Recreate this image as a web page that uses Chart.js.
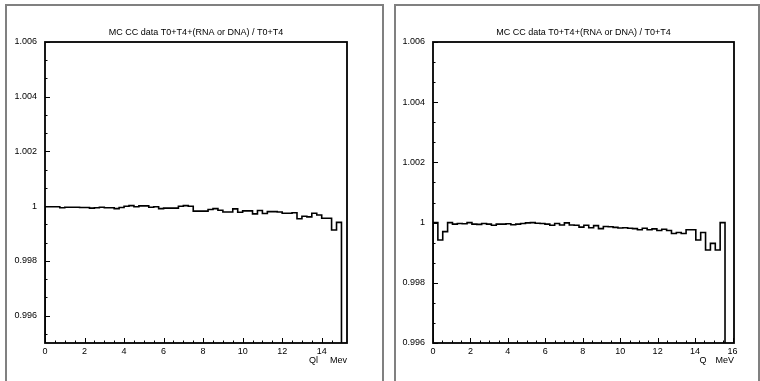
<!DOCTYPE html>
<html>
<head>
<meta charset="utf-8">
<script src="https://cdn.jsdelivr.net/npm/chart.js@4.4.1/dist/chart.umd.min.js"></script>
<style>
  body { margin: 0; background: #fff; width: 760px; height: 381px; position: relative; overflow: hidden; }
  .panel { position: absolute; top: 4px; height: 400px; border: 2px solid #808080; box-sizing: border-box; }
  canvas { position: absolute; top: 0; }
</style>
</head>
<body>
<div class="panel" style="left:5px; width:379px;"></div>
<div class="panel" style="left:394px; width:366px;"></div>
<canvas id="leftChart" width="385" height="381" style="left:0"></canvas>
<canvas id="rightChart" width="375" height="381" style="left:385px"></canvas>
<script>
// Chart data
const plotTitle = 'MC CC data T0+T4+(RNA or DNA) / T0+T4';

// left: Ql spectrum, 60 bins of 0.25 MeV
const leftBinWidth = 0.25;
const leftValues = [
  0.99998, 0.99998, 0.99998, 0.99994, 0.99996, 0.99996, 0.99996, 0.99995, 0.99995, 0.99993,
  0.99994, 0.99996, 0.99994, 0.99994, 0.99991, 0.99995, 1.00000, 1.00002, 0.99998, 1.00001,
  1.00001, 0.99996, 0.99998, 0.99991, 0.99993, 0.99993, 0.99993, 1.00000, 1.00002, 1.00000,
  0.99982, 0.99982, 0.99982, 0.99988, 0.99991, 0.99985, 0.99979, 0.99979, 0.99990, 0.99978,
  0.99983, 0.99983, 0.99972, 0.99984, 0.99973, 0.99980, 0.99980, 0.99979, 0.99974, 0.99974,
  0.99976, 0.99954, 0.99963, 0.99961, 0.99974, 0.99968, 0.99956, 0.99956, 0.99913, 0.99941
];
const leftXTicks = [0, 2, 4, 6, 8, 10, 12, 14];
const leftYTicks = [0.996, 0.998, 1, 1.002, 1.004, 1.006];

// right: Q spectrum, 60 bins of 0.26 MeV
const rightBinWidth = 0.26;
const rightValues = [
  1.00000, 0.99942, 0.99970, 1.00000, 0.99995, 0.99997, 0.99996, 1.00000, 0.99995, 0.99994,
  0.99997, 0.99995, 0.99991, 0.99995, 0.99995, 0.99996, 0.99993, 0.99995, 0.99997, 0.99999,
  1.00000, 0.99998, 0.99997, 0.99995, 0.99991, 0.99997, 0.99992, 0.99999, 0.99992, 0.99991,
  0.99985, 0.99991, 0.99983, 0.99990, 0.99980, 0.99987, 0.99986, 0.99984, 0.99982, 0.99983,
  0.99981, 0.99980, 0.99976, 0.99981, 0.99976, 0.99979, 0.99974, 0.99978, 0.99974, 0.99964,
  0.99967, 0.99964, 0.99976, 0.99976, 0.99942, 0.99967, 0.99909, 0.99931, 0.99909, 1.00000
];
const rightXTicks = [0, 2, 4, 6, 8, 10, 12, 14, 16];
const rightYTicks = [0.996, 0.998, 1, 1.002, 1.004, 1.006];

const FONT = '"Liberation Sans", Arial, Helvetica, sans-serif';

// turn bin contents into a histogram outline (drops to the axis at both ends)
function histPoints(values, width, yMin) {
  const pts = [{ x: 0, y: yMin }];
  values.forEach((v, i) => {
    pts.push({ x: +(i * width).toFixed(4), y: v });
    pts.push({ x: +((i + 1) * width).toFixed(4), y: v });
  });
  pts.push({ x: +(values.length * width).toFixed(4), y: yMin });
  return pts;
}

// frame, inward ticks, title and axis unit text
const paw = {
  id: 'paw',
  afterDraw(chart, args, opts) {
    const { ctx, chartArea: a, scales: { x, y } } = chart;
    ctx.save();
    ctx.strokeStyle = '#000';

    ctx.lineWidth = 1;
    ctx.beginPath();
    for (let k = Math.ceil(x.min / opts.xMinor - 1e-6); k * opts.xMinor <= x.max + 1e-9; k++) {
      const v = k * opts.xMinor;
      const major = Math.abs(v / opts.xMajor - Math.round(v / opts.xMajor)) < 1e-6;
      const px = Math.round(x.getPixelForValue(v)) + 0.5;
      ctx.moveTo(px, a.bottom);
      ctx.lineTo(px, a.bottom - (major ? 5 : 2.5));
    }
    for (let k = Math.ceil(y.min / opts.yMinor - 1e-6); k * opts.yMinor <= y.max + 1e-9; k++) {
      const v = k * opts.yMinor;
      const major = Math.abs(v / opts.yMajor - Math.round(v / opts.yMajor)) < 1e-6;
      const py = Math.round(y.getPixelForValue(v)) + 0.5;
      ctx.moveTo(a.left, py);
      ctx.lineTo(a.left + (major ? 5 : 2.5), py);
    }
    ctx.stroke();

    ctx.lineWidth = 1.8;
    ctx.strokeRect(a.left, a.top, a.right - a.left, a.bottom - a.top);

    ctx.fillStyle = '#000';
    ctx.font = '9px ' + FONT;
    ctx.textBaseline = 'middle';
    ctx.textAlign = 'center';
    ctx.fillText(plotTitle, (a.left + a.right) / 2, a.top - 9);

    ctx.textAlign = 'right';
    ctx.fillText(opts.unit, a.right, a.bottom + 18);
    const uw = ctx.measureText(opts.unit).width;
    ctx.fillText(opts.varName, a.right - uw - opts.gap, a.bottom + 18);
    ctx.restore();
  }
};

function makeChart(id, values, binWidth, xMax, yMin, yMax, xTicks, yTicks, yWidth, padRight, labels) {
  const ctx = document.getElementById(id).getContext('2d');
  return new Chart(ctx, {
    type: 'line',
    data: {
      datasets: [{
        data: histPoints(values, binWidth, yMin),
        borderColor: '#000',
        borderWidth: 1.6,
        pointRadius: 0,
        fill: false,
        tension: 0
      }]
    },
    options: {
      responsive: false,
      animation: false,
      layout: { padding: { left: 0, top: 42, right: padRight, bottom: 18 } },
      plugins: {
        legend: { display: false },
        tooltip: { enabled: false },
        paw: labels
      },
      scales: {
        x: {
          type: 'linear',
          min: 0,
          max: xMax,
          grid: { display: false, drawTicks: false, tickLength: 0 },
          border: { display: false },
          afterBuildTicks: s => { s.ticks = xTicks.map(v => ({ value: v })); },
          afterFit: s => { s.height = 20; },
          ticks: {
            padding: 3,
            maxRotation: 0,
            color: '#000',
            font: { family: FONT, size: 9 },
            callback: v => String(v)
          }
        },
        y: {
          min: yMin,
          max: yMax,
          grid: { display: false, drawTicks: false, tickLength: 0 },
          border: { display: false },
          afterBuildTicks: s => { s.ticks = yTicks.map(v => ({ value: v })); },
          afterFit: s => { s.width = yWidth; },
          ticks: {
            padding: 8,
            color: '#000',
            font: { family: FONT, size: 9 },
            callback: v => String(+(+v).toFixed(3))
          }
        }
      }
    },
    plugins: [paw]
  });
}

makeChart('leftChart', leftValues, leftBinWidth, 15.28, 0.995, 1.006, leftXTicks, leftYTicks, 45, 38,
  { unit: 'Mev', varName: 'Ql', gap: 12, xMinor: 0.5, xMajor: 2, yMinor: 0.002 / 3, yMajor: 0.002 });
makeChart('rightChart', rightValues, rightBinWidth, 16.08, 0.996, 1.006, rightXTicks, rightYTicks, 48, 26,
  { unit: 'MeV', varName: 'Q', gap: 9, xMinor: 0.5, xMajor: 2, yMinor: 0.002 / 3, yMajor: 0.002 });
</script>
</body>
</html>
